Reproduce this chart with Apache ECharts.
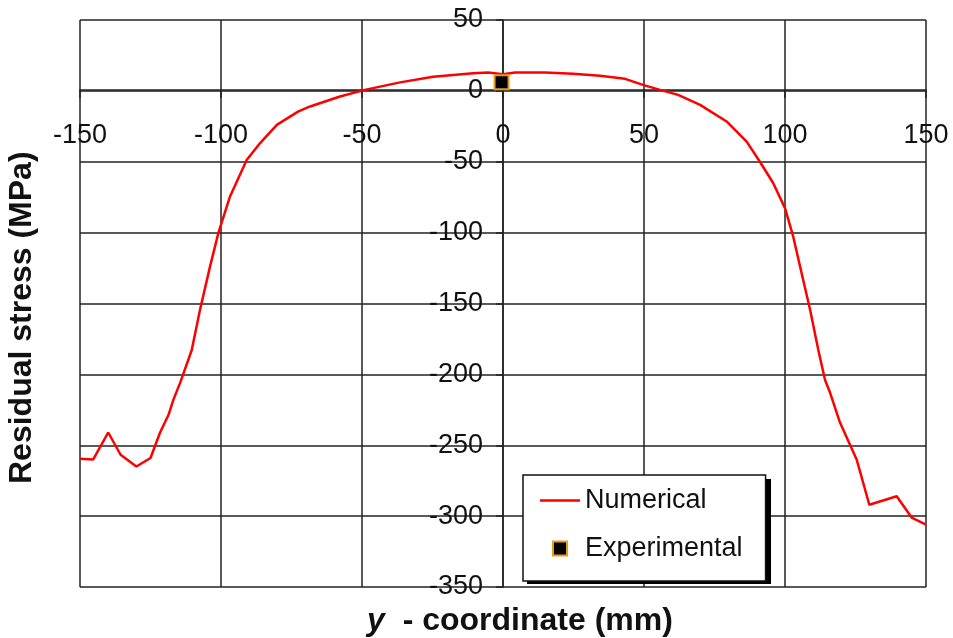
<!DOCTYPE html>
<html>
<head>
<meta charset="utf-8">
<script src="https://cdn.jsdelivr.net/npm/echarts@6/dist/echarts.min.js"></script>
<style>html,body{margin:0;padding:0;background:#fff}#c{width:953px;height:638px}</style>
</head>
<body>
<div id="c"></div>
<script>
const numX = [-150,-145.3,-140,-135.6,-130,-125,-121.6,-118.6,-116.9,-114.5,-110.4,-107.4,-103.9,-100.9,-96.8,-90.9,-86.2,-80.2,-72.7,-68.4,-57.8,-49,-36.5,-24.8,-10.6,-5.3,0,4.3,14.9,24.8,34.4,43.3,49.6,55.7,62.1,69.9,79.3,86.4,91.1,95.8,100,102.9,105.9,108.9,111.8,114.2,116,119.5,125.4,129.9,139.6,144.9,150];
const numY = [-259.5,-260,-241,-256.7,-265,-259,-241,-228.5,-218,-206,-183,-154,-124,-100,-74.5,-48.7,-37,-24,-14.6,-11,-4,0.7,6,10,12.5,13,11.8,13,13,12,10.6,8.5,4.2,0.7,-2.8,-9.9,-21.6,-35.8,-50,-65,-82.7,-102.7,-128.6,-154.4,-182.7,-204,-213,-234,-260,-292,-286,-301,-306];
const expX = [-0.5];
const expY = [6];
const seriesNames = ['Numerical', 'Experimental'];
const xTitle = 'y';
const xTitleRest = '  - coordinate (mm)';
const yTitle = 'Residual stress (MPa)';

const chart = echarts.init(document.getElementById('c'));
const font = '"Liberation Sans", Arial, sans-serif';
const gridBox = {left: 80, right: 27, top: 20, bottom: 51};
const legendBox = {left: 523, top: 475, width: 244, height: 105};
chart.setOption({
  animation: false,
  backgroundColor: '#fff',
  grid: Object.assign({show: false}, gridBox),
  xAxis: {
    type: 'value', min: -150, max: 150, interval: 50, position: 'bottom',
    axisLine: {onZero: false, lineStyle: {color: '#222', width: 1.5}},
    axisTick: {show: true, length: 8, lineStyle: {color: '#222', width: 1.5}},
    axisLabel: {margin: 32, fontSize: 27, color: '#111', fontFamily: font},
    splitLine: {show: true, lineStyle: {color: '#222', width: 1.5}}
  },
  yAxis: {
    type: 'value', min: -350, max: 50, interval: 50, position: 'left',
    axisLine: {onZero: false, lineStyle: {color: '#222', width: 1.5}},
    axisTick: {show: true, length: 7, lineStyle: {color: '#222', width: 1.5}},
    axisLabel: {margin: 20, fontSize: 27, color: '#111', fontFamily: font},
    splitLine: {show: true, lineStyle: {color: '#222', width: 1.5}}
  },
  legend: {
    orient: 'vertical', left: legendBox.left, top: legendBox.top, z: 10,
    padding: [12, 23, 19, 17],
    itemWidth: 40, itemHeight: 14, itemGap: 21,
    backgroundColor: '#fff', borderColor: '#111', borderWidth: 1.5,
    textStyle: {fontSize: 27, color: '#111', fontFamily: font},
    data: [
      {name: seriesNames[0], icon: 'path://M0,6 L40,6 L40,8.5 L0,8.5 Z'},
      {name: seriesNames[1], icon: 'path://M0,0 L10,0 L10,10 L0,10 Z'}
    ]
  },
  graphic: [
    {
      type: 'rect', z: 5, silent: true,
      shape: {x: legendBox.left + 4, y: legendBox.top + 4, width: legendBox.width, height: legendBox.height},
      style: {fill: '#000'}
    },
    {
      type: 'text', x: 520, y: 621, z: 5,
      style: {
        text: '{i|' + xTitle + '}' + xTitleRest,
        rich: {i: {fontStyle: 'italic', fontWeight: 'bold', fontSize: 32, fontFamily: font, fill: '#111'}},
        font: 'bold 32px ' + font, fill: '#111', textAlign: 'center', textVerticalAlign: 'middle'
      }
    },
    {
      type: 'text', rotation: Math.PI / 2, x: 6, y: 484, z: 5,
      style: {text: yTitle, font: 'bold 32px ' + font, fill: '#111', textVerticalAlign: 'top'}
    }
  ],
  series: [
    {
      name: seriesNames[0], type: 'line', showSymbol: false, symbol: 'none',
      lineStyle: {color: '#ff0000', width: 2.5},
      itemStyle: {color: '#ff0000'},
      data: numX.map((x, i) => [x, numY[i]]), z: 3
    },
    {
      name: seriesNames[1], type: 'scatter', symbol: 'rect', symbolSize: 14,
      itemStyle: {color: '#000', borderColor: '#e89a1e', borderWidth: 2, opacity: 1},
      data: expX.map((x, i) => [x, expY[i]]), z: 4
    }
  ]
});
// place both axes through the origin (x axis at y=0, y axis at x=0)
const origin = chart.convertToPixel({gridIndex: 0}, [0, 0]);
const H = 638, W = 953;
chart.setOption({
  xAxis: {offset: origin[1] - (H - gridBox.bottom)},
  yAxis: {offset: gridBox.left - origin[0]}
});
</script>
</body>
</html>
